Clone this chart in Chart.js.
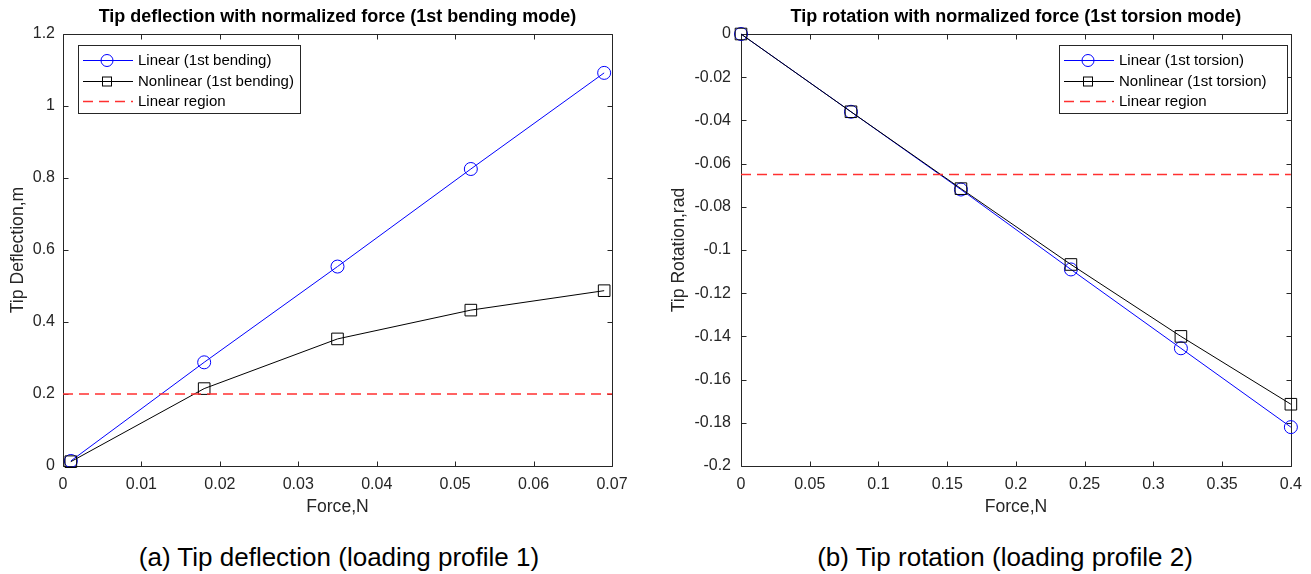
<!DOCTYPE html>
<html>
<head>
<meta charset="utf-8">
<script src="https://cdn.jsdelivr.net/npm/chart.js@4.4.0/dist/chart.umd.min.js"></script>
<style>
  body { margin: 0; background: #fff; width: 1311px; height: 574px; position: relative; overflow: hidden;
         font-family: "Liberation Sans", Arial, Helvetica, sans-serif; }
  canvas { position: absolute; top: 0; }
  #bendChart { left: 0; }
  #torsChart { left: 660px; }
  .caption { position: absolute; top: 541px; font-size: 26px; line-height: 32px; color: #000;
             white-space: nowrap; transform: translateX(-50%); }
</style>
</head>
<body>
<canvas id="bendChart" width="655" height="518"></canvas>
<canvas id="torsChart" width="651" height="518"></canvas>
<div class="caption" style="left:339px">(a) Tip deflection (loading profile 1)</div>
<div class="caption" style="left:1005px">(b) Tip rotation (loading profile 2)</div>
<script>
// (a) bending
const bendForce = [0.001, 0.018, 0.035, 0.052, 0.069];
const bendLinear = [0.014, 0.288, 0.554, 0.825, 1.092];
const bendNonlinear = [0.012, 0.215, 0.353, 0.433, 0.487];
const bendLimitX = [0, 0.07];
const bendLimitY = [0.2, 0.2];

// (b) torsion
const torsForce = [0, 0.08, 0.16, 0.24, 0.32, 0.4];
const torsLinear = [0, -0.036, -0.072, -0.109, -0.1455, -0.182];
const torsNonlinear = [0, -0.036, -0.0716, -0.1067, -0.140, -0.1714];
const torsLimitX = [0, 0.4];
const torsLimitY = [-0.065, -0.065];

const axisColor = "#262626";
const family = '"Liberation Sans", Arial, Helvetica, sans-serif';

const toPoints = (xs, ys) => xs.map((x, i) => ({ x: x, y: ys[i] }));
const fmt = (v) => String(+Number(v).toFixed(4));

// MATLAB-like box with inward ticks on all four sides
const boxAxes = {
  id: "boxAxes",
  beforeDatasetsDraw(chart) {
    const { ctx, chartArea: a, scales } = chart;
    const L = Math.round(a.left) + 0.5, R = Math.round(a.right) + 0.5;
    const T = Math.round(a.top) + 0.5, B = Math.round(a.bottom) + 0.5;
    const len = 5;
    ctx.save();
    ctx.strokeStyle = axisColor;
    ctx.lineWidth = 1;
    ctx.beginPath();
    ctx.rect(L, T, R - L, B - T);
    scales.x.ticks.forEach((t) => {
      const px = Math.round(scales.x.getPixelForValue(t.value)) + 0.5;
      ctx.moveTo(px, B); ctx.lineTo(px, B - len);
      ctx.moveTo(px, T); ctx.lineTo(px, T + len);
    });
    scales.y.ticks.forEach((t) => {
      const py = Math.round(scales.y.getPixelForValue(t.value)) + 0.5;
      ctx.moveTo(L, py); ctx.lineTo(L + len, py);
      ctx.moveTo(R, py); ctx.lineTo(R - len, py);
    });
    ctx.stroke();
    ctx.restore();
  }
};

// legend drawn inside the plot area
const insetLegend = {
  id: "insetLegend",
  afterDraw(chart, args, opts) {
    const { ctx, chartArea: a } = chart;
    const w = opts.width, h = 68;
    const x0 = Math.round(opts.side === "right" ? a.right - opts.gap - w : a.left + opts.gap);
    const y0 = Math.round(a.top + 11);
    ctx.save();
    ctx.fillStyle = "#fff";
    ctx.fillRect(x0, y0, w, h);
    ctx.strokeStyle = axisColor;
    ctx.lineWidth = 1;
    ctx.strokeRect(x0 + 0.5, y0 + 0.5, w, h);
    ctx.font = "15px " + family;
    ctx.textBaseline = "middle";
    ctx.textAlign = "left";
    chart.data.datasets.forEach((ds, i) => {
      const y = Math.round(y0 + 15 + i * 20.5) + 0.5;
      ctx.strokeStyle = ds.borderColor;
      ctx.lineWidth = ds.borderWidth;
      ctx.setLineDash(ds.borderDash || []);
      ctx.beginPath();
      ctx.moveTo(x0 + 5, y);
      ctx.lineTo(x0 + 55, y);
      ctx.stroke();
      ctx.setLineDash([]);
      ctx.lineWidth = 1;
      const mx = x0 + 29;
      if (ds.pointRadius > 0 && ds.pointStyle === "circle") {
        ctx.beginPath();
        ctx.arc(mx, y, 6, 0, Math.PI * 2);
        ctx.stroke();
      } else if (ds.pointRadius > 0 && ds.pointStyle === "rect") {
        ctx.strokeRect(mx - 4.5, y - 4.5, 9, 9);
      }
      ctx.fillStyle = "#000";
      ctx.fillText(ds.label, x0 + 60, y);
    });
    ctx.restore();
  }
};

function makeChart(id, cfg) {
  return new Chart(document.getElementById(id), {
    type: "line",
    data: {
      datasets: [
        {
          label: cfg.labels[0],
          data: toPoints(cfg.x, cfg.linear),
          borderColor: "#0000ff",
          borderWidth: 1,
          pointStyle: "circle",
          pointRadius: 6.5,
          pointBorderWidth: 1,
          pointBorderColor: "#0000ff",
          pointBackgroundColor: "rgba(0,0,0,0)",
          order: 2,
          clip: false,
        },
        {
          label: cfg.labels[1],
          data: toPoints(cfg.x, cfg.nonlinear),
          borderColor: "#000000",
          borderWidth: 1,
          pointStyle: "rect",
          pointRadius: 8.2,
          pointBorderWidth: 1,
          pointBorderColor: "#000000",
          pointBackgroundColor: "rgba(0,0,0,0)",
          order: 1,
          clip: false,
        },
        {
          label: "Linear region",
          data: toPoints(cfg.limitX, cfg.limitY),
          borderColor: "#ff3030",
          borderWidth: 1.5,
          borderDash: [10, 6],
          pointRadius: 0,
          order: 0,
          clip: false,
        },
      ],
    },
    options: {
      responsive: false,
      animation: false,
      devicePixelRatio: 1,
      layout: { padding: { left: 0, right: cfg.padRight, top: 0, bottom: 0 } },
      plugins: {
        legend: { display: false },
        tooltip: { enabled: false },
        title: {
          display: true,
          text: cfg.title,
          fullSize: false,
          color: "#000",
          font: { family: family, size: 18, weight: "bold" },
          padding: { top: 6, bottom: 6.4 },
        },
        insetLegend: cfg.legend,
      },
      scales: {
        x: {
          type: "linear",
          min: cfg.xMin,
          max: cfg.xMax,
          border: { display: false },
          grid: { display: false, drawTicks: false },
          ticks: {
            stepSize: cfg.xStep,
            autoSkip: false,
            maxRotation: 0,
            color: axisColor,
            padding: 9,
            font: { family: family, size: 16 },
            callback: fmt,
          },
          title: {
            display: true,
            text: "Force,N",
            color: axisColor,
            font: { family: family, size: 17.6 },
            padding: 0,
          },
          afterFit: (s) => { s.height = 52; },
        },
        y: {
          type: "linear",
          min: cfg.yMin,
          max: cfg.yMax,
          border: { display: false },
          grid: { display: false, drawTicks: false },
          ticks: {
            stepSize: cfg.yStep,
            autoSkip: false,
            color: axisColor,
            padding: cfg.yTickPad,
            font: { family: family, size: 16 },
            callback: fmt,
          },
          title: {
            display: true,
            text: cfg.yTitle,
            color: axisColor,
            font: { family: family, size: 17.6 },
            padding: { top: cfg.yTitlePad, bottom: 0 },
          },
          afterFit: (s) => { s.width = cfg.yWidth; },
        },
      },
    },
    plugins: [boxAxes, insetLegend],
  });
}

makeChart("bendChart", {
  title: "Tip deflection with normalized force (1st bending mode)",
  labels: ["Linear (1st bending)", "Nonlinear (1st bending)"],
  x: bendForce, linear: bendLinear, nonlinear: bendNonlinear,
  limitX: bendLimitX, limitY: bendLimitY,
  xMin: 0, xMax: 0.07, xStep: 0.01,
  yMin: 0, yMax: 1.2, yStep: 0.2,
  yTitle: "Tip Deflection,m",
  yWidth: 63, yTickPad: 8, yTitlePad: 7.4, padRight: 43,
  legend: { side: "left", gap: 15, width: 222 },
});

makeChart("torsChart", {
  title: "Tip rotation with normalized force (1st torsion mode)",
  labels: ["Linear (1st torsion)", "Nonlinear (1st torsion)"],
  x: torsForce, linear: torsLinear, nonlinear: torsNonlinear,
  limitX: torsLimitX, limitY: torsLimitY,
  xMin: 0, xMax: 0.4, xStep: 0.05,
  yMin: -0.2, yMax: 0, yStep: 0.02,
  yTitle: "Tip Rotation,rad",
  yWidth: 81, yTickPad: 10, yTitlePad: 8.4, padRight: 20,
  legend: { side: "right", gap: 4, width: 228 },
});
</script>
</body>
</html>
